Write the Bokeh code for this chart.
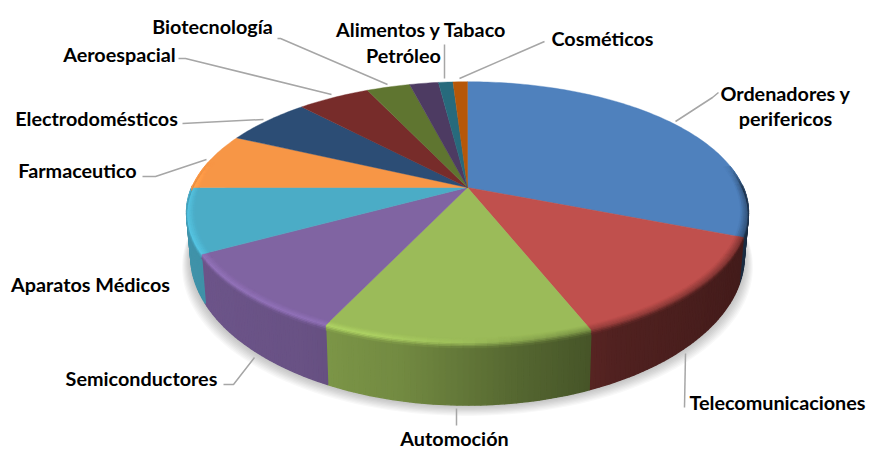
import numpy as np
from bokeh.plotting import figure
from bokeh.models import ColumnDataSource
from bokeh.core.properties import value
from bokeh.embed import file_html
from bokeh.resources import INLINE

# data
categories = ["Ordenadores y perifericos", "Telecomunicaciones", "Automoción", "Semiconductores",
              "Aparatos Médicos", "Farmaceutico", "Electrodomésticos", "Aeroespacial",
              "Biotecnología", "Petróleo", "Alimentos y Tabaco", "Cosméticos"]
shares = [31, 13, 13, 10, 8, 7, 6, 5, 3, 2, 1, 1]
colors = ["#4F81BD", "#C0504D", "#9BBB59", "#8064A2", "#4BACC6", "#F79646",
          "#2C4D75", "#772C2A", "#5F7530", "#4D3B62", "#276A7C", "#B65708"]

# label layout (page pixels): text lines, centre x, centre y
label_lines = [("Ordenadores y", 785, 92), ("perifericos", 785, 117), ("Telecomunicaciones", 777, 401),
               ("Automoción", 454, 437), ("Semiconductores", 141, 377), ("Aparatos Médicos", 90, 283),
               ("Farmaceutico", 77, 169), ("Electrodomésticos", 96, 117), ("Aeroespacial", 119, 53),
               ("Biotecnología", 212, 25), ("Petróleo", 403, 54), ("Alimentos y Tabaco", 421, 28),
               ("Cosméticos", 602, 37)]
leaders = [([675, 712, 718], [121, 97, 92]), ([685, 684], [353, 407]), ([456, 456], [408, 425]),
           ([254, 233, 223], [357, 384, 384]), ([206, 155, 142], [159, 176, 176]),
           ([263, 182], [119, 123]), ([331, 185, 178], [94, 58, 58]), ([387, 280, 277], [84, 38, 38]),
           ([444, 444], [78, 44]), ([459, 544], [78, 41])]

# projection of the tilted disc
CX, CY, A, B, K, D0, NARROW = 467.0, 187.0, 275.8, 126.0, 0.191, 40.5, 0.985


def top(t, r=1.0, dz=0.0):
    v = np.cos(t)
    w = 1 + K * r * v
    return CX + A * r * np.sin(t) / w, CY - B * r * v / w + dz / (1 + K * v) ** 2


def bottom(t):
    v = np.cos(t)
    w = 1 + K * v
    return CX + NARROW * A * np.sin(t) / w, CY - B * v / w + D0 / w ** 2


def rgb(h):
    return np.array([int(h[i:i + 2], 16) for i in (1, 3, 5)], float)


def hexc(c):
    c = np.clip(c, 0, 255).astype(int)
    return "#%02x%02x%02x" % tuple(c)


def rim_factor(xn):
    return np.interp(xn, [-1, -0.5, -0.2, 0.15, 0.45, 1], [0.86, 0.82, 0.74, 0.55, 0.42, 0.34])


def bevel_mid(base, xn):
    gain = np.interp(xn, [-1, -0.3, 0.0, 0.3, 1], [1.16, 1.14, 1.02, 0.8, 0.6])
    return base * gain


fr = np.array(shares, float) / sum(shares)
ends = np.cumsum(fr) * 2 * np.pi
starts = np.r_[0, ends[:-1]]

p = figure(width=869, height=450, x_range=(0, 869), y_range=(450, 0), toolbar_location=None,
           output_backend="svg", min_border=0, outline_line_color=None)
p.axis.visible = False
p.grid.visible = False
p.background_fill_color = "white"

# soft shadow
tt = np.linspace(0, 2 * np.pi, 180)
bx, by = bottom(tt)
for i in range(1, 10):
    s = 1 + 0.0035 * i
    p.patch(list(CX + (bx - CX) * s), list(by + 1.2 * i), fill_color="black", fill_alpha=0.028, line_color=None)

# rim
rx, ry, rc = [], [], []
for a, b, col in zip(starts, ends, colors):
    lo, hi = max(a, np.pi / 2 - 0.02), min(b, 3 * np.pi / 2 + 0.02)
    if hi <= lo:
        continue
    n = max(2, int((hi - lo) / np.radians(1.0)))
    ts = np.linspace(lo, hi, n + 1)
    base = rgb(col)
    for t0, t1 in zip(ts[:-1], ts[1:]):
        x0, y0 = top(t0); x1, y1 = top(t1)
        x2, y2 = bottom(t1); x3, y3 = bottom(t0)
        rx.append([x0, x1, x2, x3]); ry.append([y0, y1, y2, y3])
        rc.append(hexc(base * rim_factor(np.sin((t0 + t1) / 2))))
src = ColumnDataSource(dict(xs=rx, ys=ry, c=rc))
p.patches("xs", "ys", source=src, fill_color="c", line_color="c", line_width=1.4)

# top surface
tx, ty, tc = [], [], []
for a, b, col in zip(starts, ends, colors):
    n = max(3, int((b - a) / np.radians(1.0)))
    ts = np.linspace(a, b, n + 1)
    x, y = top(ts)
    tx.append([CX] + list(x)); ty.append([CY] + list(y)); tc.append(col)
p.patches(tx, ty, fill_color=tc, line_color=tc, line_width=0.4)

# bevel along the front edge
bands = np.linspace(0, 1, 9)
vx, vy, vc = [], [], []
for a, b, col in zip(starts, ends, colors):
    lo, hi = max(a, np.radians(80)), min(b, np.radians(282))
    if hi <= lo:
        continue
    n = max(2, int((hi - lo) / np.radians(2.0)))
    ts = np.linspace(lo, hi, n + 1)
    base = rgb(col)

    def place(t, s):
        if s < 0.6:
            return top(t, 0.972 + 0.028 * s / 0.6, 0.0)
        return top(t, 1.0, (s - 0.6) / 0.4 * 3.2)

    for s0, s1 in zip(bands[:-1], bands[1:]):
        sm = (s0 + s1) / 2
        for t0, t1 in zip(ts[:-1], ts[1:]):
            xn = np.sin((t0 + t1) / 2)
            mid = bevel_mid(base, xn)
            rimc = base * rim_factor(xn)
            if sm < 0.6:
                c = base + (mid - base) * (sm / 0.6)
            else:
                c = mid + (rimc - mid) * ((sm - 0.6) / 0.4)
            # fade the bevel out towards the back of the disc
            back = np.clip(np.cos((t0 + t1) / 2) / 0.2, 0, 1)
            c = c * (1 - back) + base * back
            a0 = place(t0, s0); a1 = place(t1, s0); a2 = place(t1, s1); a3 = place(t0, s1)
            vx.append([a0[0], a1[0], a2[0], a3[0]]); vy.append([a0[1], a1[1], a2[1], a3[1]])
            vc.append(hexc(c))
src2 = ColumnDataSource(dict(xs=vx, ys=vy, c=vc))
p.patches("xs", "ys", source=src2, fill_color="c", line_color="c", line_width=0.4)

# leader lines
for lx, ly in leaders:
    p.line(lx, ly, line_color="#a6a6a6", line_width=1.5)

# labels
p.text([l[1] for l in label_lines], [l[2] for l in label_lines], text=[l[0] for l in label_lines],
       text_font=value("Lato"), text_font_style="bold", text_font_size="19.8px", text_color="#000000",
       text_align="center", text_baseline="middle")

open("out.html", "w").write(file_html(p, INLINE))
